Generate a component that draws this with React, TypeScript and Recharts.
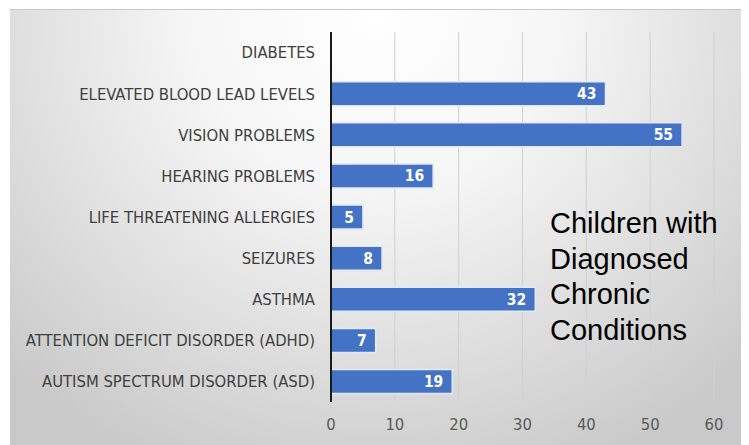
import { BarChart, Bar, XAxis, YAxis, CartesianGrid, LabelList } from 'recharts'

const categories = [
  'DIABETES',
  'ELEVATED BLOOD LEAD LEVELS',
  'VISION PROBLEMS',
  'HEARING PROBLEMS',
  'LIFE THREATENING ALLERGIES',
  'SEIZURES',
  'ASTHMA',
  'ATTENTION DEFICIT DISORDER (ADHD)',
  'AUTISM SPECTRUM DISORDER (ASD)',
]

const counts = [0, 43, 55, 16, 5, 8, 32, 7, 19]

const xTicks = [0, 10, 20, 30, 40, 50, 60]

const titleLines = ['Children with', 'Diagnosed', 'Chronic', 'Conditions']

const chartData = categories.map((name, i) => ({ name, value: counts[i] }))

const LABEL_FONT = "'Liberation Sans Narrow', 'DejaVu Sans Condensed', sans-serif"

export default function App() {
  return (
    <div style={{ position: 'absolute', left: 0, top: 0, width: 749, height: 445, background: '#fff' }}>
      <div
        style={{
          position: 'absolute',
          left: 10,
          top: 9,
          width: 731,
          height: 436,
          borderTop: '1px solid #c8c8c8',
          background:
            'radial-gradient(ellipse 72% 115% at 50% 0%, #ffffff 0%, #f6f6f6 35%, #dedede 70%, #c9c9c9 100%)',
        }}
      />
      <div style={{ position: 'absolute', left: 0, top: 0 }}>
        <BarChart
          width={749}
          height={445}
          data={chartData}
          layout="vertical"
          margin={{ top: 32, right: 35, bottom: 0, left: 0 }}
          barCategoryGap="21%"
        >
          <CartesianGrid horizontal={false} stroke="#d0d0d0" strokeWidth={1} />
          <XAxis
            type="number"
            domain={[0, 60]}
            ticks={xTicks}
            axisLine={false}
            tickLine={false}
            tickSize={0}
            tickMargin={16}
            height={43}
            tick={{ fill: '#595959', fontSize: 16.5, fontFamily: LABEL_FONT }}
          />
          <YAxis
            type="category"
            dataKey="name"
            width={331}
            axisLine={{ stroke: '#1a1a1a', strokeWidth: 2 }}
            tickLine={false}
            tickSize={0}
            tickMargin={16}
            interval={0}
            tick={{ fill: '#404040', fontSize: 16.5, fontFamily: LABEL_FONT }}
          />
          <Bar dataKey="value" fill="#4472c4" stroke="#e4eaf5" strokeWidth={1.5} isAnimationActive={false}>
            <LabelList
              dataKey="value"
              position="insideRight"
              offset={9}
              formatter={(v: any) => (v ? v : '')}
              style={{ fill: '#ffffff', fontSize: 15.5, fontWeight: 700, fontFamily: LABEL_FONT }}
            />
          </Bar>
        </BarChart>
      </div>
      <div
        style={{
          position: 'absolute',
          left: 550,
          top: 206,
          fontFamily: "'Liberation Sans', Arial, sans-serif",
          fontSize: 29,
          lineHeight: '35.5px',
          color: '#000',
        }}
      >
        {titleLines.map((t) => (
          <div key={t}>{t}</div>
        ))}
      </div>
    </div>
  )
}
